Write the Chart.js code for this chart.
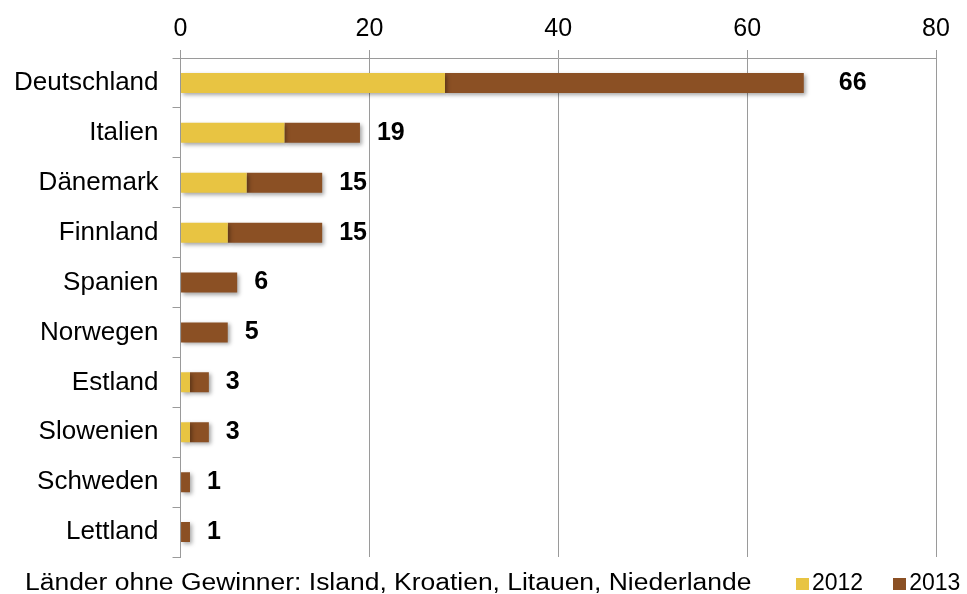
<!DOCTYPE html>
<html>
<head>
<meta charset="utf-8">
<script src="https://cdn.jsdelivr.net/npm/chart.js@4.4.1/dist/chart.umd.min.js"></script>
<style>
  html, body { margin: 0; padding: 0; background: #fff; }
  #wrap { position: relative; width: 967px; height: 594px; }
  #note, #legend {
    position: absolute; top: 569px; line-height: 23px;
    font: 23px "Liberation Sans", Arial, sans-serif; color: #000;
    white-space: nowrap;
  }
  #note { left: 25px; transform: scaleX(1.15); transform-origin: left center; }
  #legend { left: 796px; display: flex; align-items: center; }
  #legend span.box { display: inline-block; width: 13px; height: 12px; margin: 3px 3px 0 0; }
  #legend span.item { display: inline-flex; align-items: center; margin-right: 30px; }
</style>
</head>
<body>
<div id="wrap">
  <canvas id="chart"></canvas>
  <div id="note">Länder ohne Gewinner: Island, Kroatien, Litauen, Niederlande</div>
  <div id="legend"></div>
</div>
<script>
const countries = ['Deutschland', 'Italien', 'Dänemark', 'Finnland', 'Spanien',
  'Norwegen', 'Estland', 'Slowenien', 'Schweden', 'Lettland']
const wins2012 = [28, 11, 7, 5, 0, 0, 1, 1, 0, 0]
const wins2013 = [38, 8, 8, 10, 6, 5, 2, 2, 1, 1]
const xTicks = [0, 20, 40, 60, 80]

const gridGray = '#9a9a9a'

// drop shadow under the bars
const barShadow = {
  id: 'barShadow',
  beforeDatasetsDraw(chart) {
    const ctx = chart.ctx
    ctx.save()
    ctx.shadowColor = 'rgba(0,0,0,0.35)'
    ctx.shadowBlur = 4
    ctx.shadowOffsetX = 2
    ctx.shadowOffsetY = 2
  },
  afterDatasetsDraw(chart) {
    chart.ctx.restore()
  },
}

// bold totals at the end of each bar
const totals = {
  id: 'totals',
  afterDraw(chart) {
    const ctx = chart.ctx
    const x = chart.scales.x
    const meta = chart.getDatasetMeta(1)
    ctx.save()
    ctx.font = 'bold 25px "Liberation Sans", Arial, sans-serif'
    ctx.fillStyle = '#000'
    ctx.textBaseline = 'middle'
    countries.forEach((c, i) => {
      const total = wins2012[i] + wins2013[i]
      const gap = i === 0 ? 35 : 17
      ctx.fillText(String(total), x.getPixelForValue(total) + gap, meta.data[i].y)
    })
    ctx.restore()
  },
}

Chart.defaults.font.family = '"Liberation Sans", Arial, sans-serif'
Chart.defaults.color = '#000'

const chart = new Chart(document.getElementById('chart'), {
  type: 'bar',
  data: {
    labels: countries,
    datasets: [
      { label: '2012', data: wins2012, backgroundColor: '#e8c442' },
      { label: '2013', data: wins2013, backgroundColor: '#8b5024' },
    ],
  },
  options: {
    indexAxis: 'y',
    responsive: true,
    maintainAspectRatio: false,
    animation: false,
    categoryPercentage: 1,
    barPercentage: 0.4,
    layout: { padding: { top: 8, left: 0, right: 31, bottom: 37 } },
    scales: {
      x: {
        position: 'top',
        stacked: true,
        min: 0,
        max: 80,
        afterBuildTicks: (axis) => { axis.ticks = xTicks.map((v) => ({ value: v })) },
        ticks: { font: { size: 25 }, padding: 6 },
        grid: { color: gridGray, tickLength: 8 },
        border: { color: gridGray },
      },
      y: {
        stacked: true,
        ticks: { font: { size: 26 }, padding: 14 },
        grid: { color: gridGray, tickLength: 8, drawOnChartArea: false },
        border: { color: gridGray },
      },
    },
    plugins: {
      legend: { display: false },
      tooltip: { enabled: false },
    },
  },
  plugins: [barShadow, totals],
})

// legend built from the chart's datasets
const legend = document.getElementById('legend')
chart.data.datasets.forEach((ds) => {
  const item = document.createElement('span')
  item.className = 'item'
  const box = document.createElement('span')
  box.className = 'box'
  box.style.background = ds.backgroundColor
  item.appendChild(box)
  item.appendChild(document.createTextNode(ds.label))
  legend.appendChild(item)
})
</script>
</body>
</html>
